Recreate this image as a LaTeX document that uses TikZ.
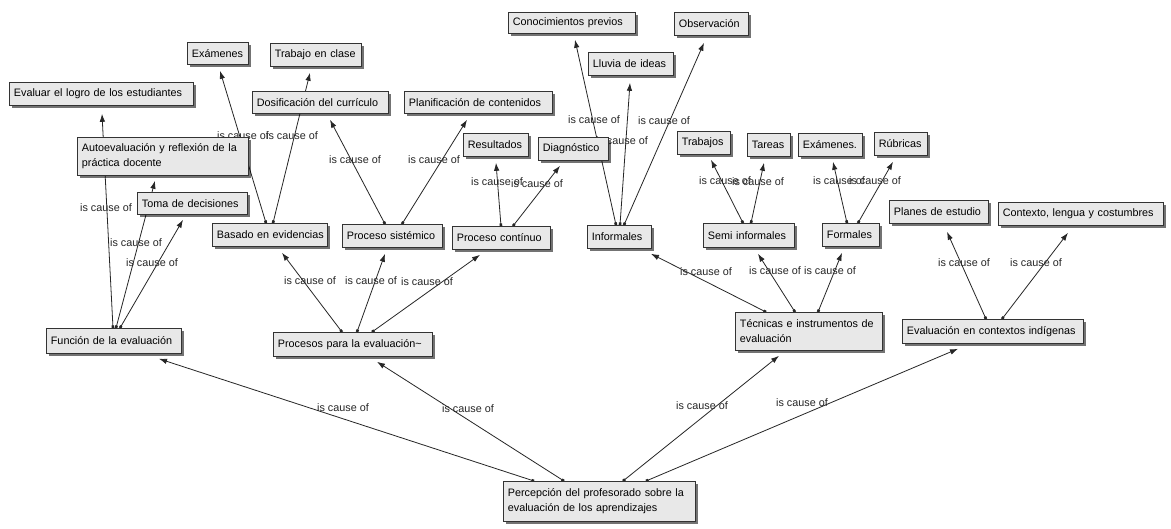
\documentclass[tikz,border=0pt]{standalone}
\usepackage{fontspec}
\setmainfont{Liberation Sans}
\usetikzlibrary{arrows.meta,shadows}
\pgfdeclarelayer{bg}
\pgfsetlayers{bg,main}
\newcommand{\cmapbox}[6]{%
  \pgfmathsetmacro{\cmW}{#4-#2}%
  \pgfmathsetmacro{\cmH}{#5-#3}%
  \pgfmathsetmacro{\cmT}{#4-#2-9}%
  \node[cbox, minimum width=\cmW pt, minimum height=\cmH pt, text width=\cmT pt] (#1) at (#2,#3) {#6};}
\tikzset{
  cbox/.style={draw=black!80, line width=0.8pt, fill=black!9, anchor=north west,
    inner xsep=4.5pt, inner ysep=1pt, align=left,
    font=\fontsize{10.8}{15}\selectfont,
    drop shadow={shadow xshift=2.2pt, shadow yshift=-2.2pt, fill=black, opacity=0.55}},
  link/.style={draw=black!85, line width=0.8pt,
    {Square[length=2.6pt,width=2.6pt]}-{Latex[length=8pt,width=5.5pt]}},
  lbl/.style={inner sep=0pt, font=\fontsize{10.8}{13}\selectfont, text=black!85}
}
\begin{document}
\begin{tikzpicture}[x=1pt,y=-1pt]
\useasboundingbox (0,0) rectangle (1171,528);
% concepts
\cmapbox{evlogro}{9}{82}{193}{105}{\mbox{Evaluar el logro de los estudiantes}}
\cmapbox{examA}{187}{42}{248}{64}{\mbox{Exámenes}}
\cmapbox{trabclase}{270}{43}{361}{66}{\mbox{Trabajo en clase}}
\cmapbox{dosif}{252}{91}{388}{113}{\mbox{Dosificación del currículo}}
\cmapbox{planif}{404}{91}{552}{113}{\mbox{Planificación de contenidos}}
\cmapbox{autoev}{77}{137}{248}{175}{\mbox{Autoevaluación y reflexión de la}\\\mbox{práctica docente}}
\cmapbox{toma}{137}{192}{247}{214}{\mbox{Toma de decisiones}}
\cmapbox{basado}{212}{223}{327}{246}{\mbox{Basado en evidencias}}
\cmapbox{sistem}{342}{224}{442}{247}{\mbox{Proceso sistémico}}
\cmapbox{result}{463}{133}{528}{156}{\mbox{Resultados}}
\cmapbox{diagn}{538}{137}{608}{160}{\mbox{Diagnóstico}}
\cmapbox{continuo}{452}{226}{550}{249}{\mbox{Proceso contínuo}}
\cmapbox{conoc}{508}{12}{635}{33}{\mbox{Conocimientos previos}}
\cmapbox{lluvia}{588}{52}{673}{75}{\mbox{Lluvia de ideas}}
\cmapbox{observ}{674}{12}{748}{35}{\mbox{Observación}}
\cmapbox{inform}{587}{225}{651}{248}{\mbox{Informales}}
\cmapbox{trabajos}{677}{131}{730}{154}{\mbox{Trabajos}}
\cmapbox{tareas}{747}{133}{790}{156}{\mbox{Tareas}}
\cmapbox{examB}{798}{133}{862}{156}{\mbox{Exámenes.}}
\cmapbox{rubr}{874}{132}{927}{155}{\mbox{Rúbricas}}
\cmapbox{semi}{703}{223}{794}{247}{\mbox{Semi informales}}
\cmapbox{formales}{822}{223}{879}{246}{\mbox{Formales}}
\cmapbox{planes}{889}{200}{988}{223}{\mbox{Planes de estudio}}
\cmapbox{contexto}{998}{202}{1163}{225}{\mbox{Contexto, lengua y costumbres}}
\cmapbox{funcion}{46}{328}{181}{353}{\mbox{Función de la evaluación}}
\cmapbox{procesos}{273}{332}{432}{356}{\mbox{Procesos para la evaluación\textasciitilde}}
\cmapbox{tecnicas}{735}{312}{882}{350}{\mbox{Técnicas e instrumentos de}\\\mbox{evaluación}}
\cmapbox{evctx}{902}{319}{1083}{343}{\mbox{Evaluación en contextos indígenas}}
\cmapbox{percep}{503}{481}{695}{521}{\mbox{Percepción del profesorado sobre la}\\\mbox{evaluación de los aprendizajes}}
\begin{pgfonlayer}{bg}
\fill[white] (0,0) rectangle (1171,528);
% Funcion
\draw[link] ([shift={(67,0)}]funcion.north west) -- ([shift={(93,8)}]evlogro.south west);
\draw[link] ([shift={(70,0)}]funcion.north west) -- ([shift={(78,5)}]autoev.south west);
\draw[link] ([shift={(74,0)}]funcion.north west) -- ([shift={(46,5)}]toma.south west);
\node[lbl] (l1) at (106,208) {is cause of};
\node[lbl] (l2) at (136,243) {is cause of};
\node[lbl] (l3) at (152,263) {is cause of};
% Basado
\draw[link] ([shift={(54,0)}]basado.north west) -- ([shift={(33,6)}]examA.south west);
\draw[link] ([shift={(61,0)}]basado.north west) -- ([shift={(40,6)}]trabclase.south west);
\node[lbl] (l4) at (243,136) {is cause of};
\node[lbl] (l5) at (292,136) {is cause of};
% Sistemico
\draw[link] ([shift={(43,0)}]sistem.north west) -- ([shift={(78,6)}]dosif.south west);
\draw[link] ([shift={(60,0)}]sistem.north west) -- ([shift={(63,6)}]planif.south west);
\node[lbl] (l6) at (355,160) {is cause of};
\node[lbl] (l7) at (434,160) {is cause of};
% Continuo
\draw[link] ([shift={(49,0)}]continuo.north west) -- ([shift={(33,6)}]result.south west);
\draw[link] ([shift={(61,0)}]continuo.north west) -- ([shift={(22,5)}]diagn.south west);
\node[lbl] (l8) at (497,182) {is cause of};
\node[lbl] (l9) at (537,184) {is cause of};
% Procesos
\draw[link] ([shift={(69,0)}]procesos.north west) -- ([shift={(70,6)}]basado.south west);
\draw[link] ([shift={(84,0)}]procesos.north west) -- ([shift={(43,6)}]sistem.south west);
\draw[link] ([shift={(99,0)}]procesos.north west) -- ([shift={(28,5)}]continuo.south west);
\node[lbl] (l10) at (310,281) {is cause of};
\node[lbl] (l11) at (371,281) {is cause of};
\node[lbl] (l12) at (427,282) {is cause of};
% Informales
\draw[link] ([shift={(29,0)}]inform.north west) -- ([shift={(67,6)}]conoc.south west);
\draw[link] ([shift={(33,0)}]inform.north west) -- ([shift={(42,7)}]lluvia.south west);
\draw[link] ([shift={(37,0)}]inform.north west) -- ([shift={(30,7)}]observ.south west);
\node[lbl] (l13) at (594,120) {is cause of};
\node[lbl] (l14) at (622,141) {is cause of};
\node[lbl] (l15) at (664,121) {is cause of};
% Semi informales
\draw[link] ([shift={(40,0)}]semi.north west) -- ([shift={(34,5)}]trabajos.south west);
\draw[link] ([shift={(48,0)}]semi.north west) -- ([shift={(17,6)}]tareas.south west);
\node[lbl] (l16) at (725,181) {is cause of};
\node[lbl] (l17) at (758,182) {is cause of};
% Formales
\draw[link] ([shift={(25,0)}]formales.north west) -- ([shift={(35,5)}]examB.south west);
\draw[link] ([shift={(36,0)}]formales.north west) -- ([shift={(19,6)}]rubr.south west);
\node[lbl] (l18) at (839,181) {is cause of};
\node[lbl] (l19) at (875,181) {is cause of};
% Tecnicas
\draw[link] ([shift={(31,0)}]tecnicas.north west) -- ([shift={(64,5)}]inform.south west);
\draw[link] ([shift={(60,0)}]tecnicas.north west) -- ([shift={(55,6)}]semi.south west);
\draw[link] ([shift={(83,0)}]tecnicas.north west) -- ([shift={(20,6)}]formales.south west);
\node[lbl] (l20) at (706,272) {is cause of};
\node[lbl] (l21) at (775,271) {is cause of};
\node[lbl] (l22) at (830,271) {is cause of};
% Evaluacion en contextos
\draw[link] ([shift={(84,0)}]evctx.north west) -- ([shift={(58,8)}]planes.south west);
\draw[link] ([shift={(100,0)}]evctx.north west) -- ([shift={(70,7)}]contexto.south west);
\node[lbl] (l23) at (964,263) {is cause of};
\node[lbl] (l24) at (1036,263) {is cause of};
% Percepcion
\draw[link] ([shift={(31,0)}]percep.north west) -- ([shift={(113,5)}]funcion.south west);
\draw[link] ([shift={(61,0)}]percep.north west) -- ([shift={(104,5)}]procesos.south west);
\draw[link] ([shift={(120,0)}]percep.north west) -- ([shift={(44,5)}]tecnicas.south west);
\draw[link] ([shift={(143,0)}]percep.north west) -- ([shift={(56,5)}]evctx.south west);
\node[lbl] (l25) at (343,408) {is cause of};
\node[lbl] (l26) at (468,409) {is cause of};
\node[lbl] (l27) at (702,406) {is cause of};
\node[lbl] (l28) at (802,403) {is cause of};
\end{pgfonlayer}
\end{tikzpicture}
\end{document}
